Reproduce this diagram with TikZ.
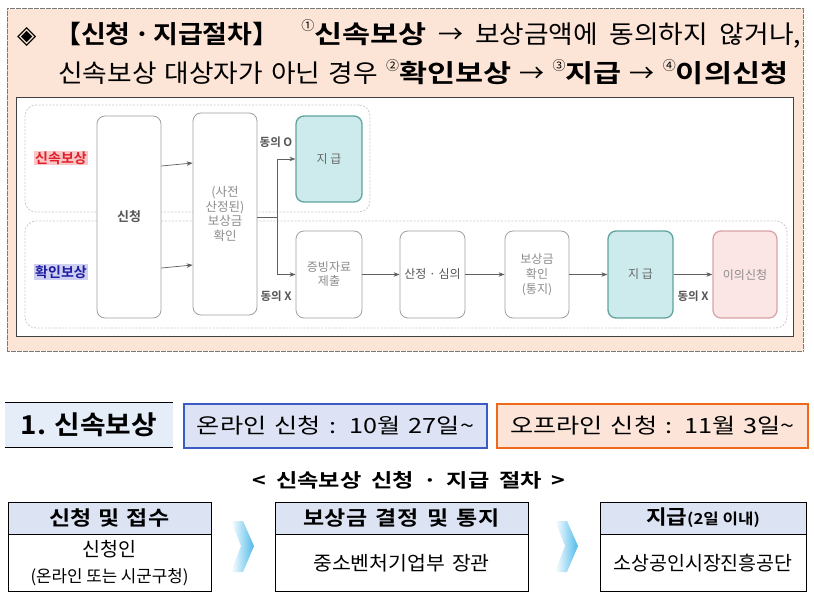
\documentclass[tikz,border=0pt]{standalone}
\usepackage{graphicx}
\usepackage{fontspec}
\setmainfont{Noto Sans CJK KR}[BoldFont={Noto Sans CJK KR Bold}]
\newfontfamily\symfont{DejaVu Sans}
\usetikzlibrary{arrows.meta,calc}
\definecolor{peach}{HTML}{FCE4D6}
\definecolor{bordgray}{HTML}{7A7A7A}
\definecolor{boxgray}{HTML}{A0A0A0}
\definecolor{txtgray}{HTML}{8C8C8C}
\definecolor{darkgray}{HTML}{555555}
\definecolor{tealfill}{HTML}{CDEBEC}
\definecolor{tealdraw}{HTML}{5FA39C}
\definecolor{pinkfill}{HTML}{FBE5E5}
\definecolor{pinkdraw}{HTML}{D8A3A8}
\definecolor{arrgray}{HTML}{606060}
\definecolor{grpgray}{HTML}{CACACA}
\definecolor{redlbl}{HTML}{E3202A}
\definecolor{redbg}{HTML}{F8C8C8}
\definecolor{bluelbl}{HTML}{1E1EA0}
\definecolor{bluebg}{HTML}{CFCFF3}
\definecolor{hdrblue}{HTML}{DCE3F3}
\definecolor{numfill}{HTML}{E5EDF8}
\definecolor{bluefill}{HTML}{DDE3F5}
\definecolor{bluedraw}{HTML}{3B5CC4}
\definecolor{orgfill}{HTML}{FCE5D8}
\definecolor{orgdraw}{HTML}{EE6A1A}
\definecolor{chev}{HTML}{4FBAEA}
\newcommand\circnum[1]{\raisebox{0.5em}{\fontsize{13}{13}\selectfont #1}}
\newcommand\rw[1]{\scalebox{1.07}[1]{#1}}
\newcommand\bw[1]{\scalebox{1.22}[1]{\textbf{#1}}}
\begin{document}
\begin{tikzpicture}[x=1pt,y=-1pt,
  whitebox/.style={draw=boxgray, line width=0.8pt, rounded corners=8pt, fill=white,
    text=txtgray, font=\fontsize{12}{14}\selectfont, align=center, inner sep=0pt},
  tealbox/.style={whitebox, draw=tealdraw, fill=tealfill, line width=1.3pt, text=darkgray!90},
  pinkbox/.style={whitebox, draw=pinkdraw, fill=pinkfill, line width=1.3pt},
  grp/.style={draw=grpgray, line width=0.8pt, dash pattern=on 2pt off 1.5pt, rounded corners=11pt},
  arr/.style={draw=arrgray, line width=0.7pt, -{Stealth[length=6pt,width=4.5pt]}},
  lbl/.style={font=\fontsize{11.5}{12}\selectfont\bfseries, text=darkgray, inner sep=0pt},
  hdr/.style={draw=black, line width=0.9pt, fill=hdrblue, inner sep=0pt, font=\fontsize{20}{22}\selectfont\bfseries},
  bdy/.style={draw=black, line width=0.9pt, fill=white, inner sep=0pt, align=center, font=\fontsize{19.5}{26}\selectfont},
]
\useasboundingbox (0,0) rectangle (814,599);
\fill[white] (0,0) rectangle (814,599);

% top peach panel
\node[draw=bordgray, line width=1pt, dash pattern=on 0.6pt off 0.6pt, fill=peach,
  minimum width=796pt, minimum height=342pt, inner sep=0pt] (panel) at (405,180) {};
\node[anchor=west, inner sep=0pt, font=\fontsize{25}{28}\selectfont] (t1) at (17,34)
  {\makebox[784pt][s]{{\symfont ◈}\hspace{6pt} \scalebox{1.08}[1]{\textbf{【신청\hspace{3pt}·\hspace{3pt}지급절차】}}\hspace{10pt} \circnum{①}\bw{신속보상} → \rw{보상금액에} \rw{동의하지} \rw{않거나,}}};
\node[anchor=west, inner sep=0pt, font=\fontsize{25}{28}\selectfont] (t2) at (58,72)
  {\makebox[730pt][s]{\rw{신속보상} \rw{대상자가} \rw{아닌} \rw{경우} \circnum{②}\bw{확인보상} → \circnum{③}\bw{지급} → \circnum{④}\bw{이의신청}}};

\node[draw=black!75, line width=0.8pt, fill=white, minimum width=777pt, minimum height=239pt, inner sep=0pt] (inner) at (404.5,216.5) {};

% groups
\node[grp, minimum width=345pt, minimum height=107pt, inner sep=0pt] (g1) at (197.5,158.5) {};
\node[grp, minimum width=762pt, minimum height=107pt, inner sep=0pt] (g2) at (406,274.5) {};

\node[font=\fontsize{14}{15}\selectfont\bfseries, text=redlbl, fill=redbg, inner sep=1pt] (l1) at (61,158) {신속보상};
\node[font=\fontsize{14}{15}\selectfont\bfseries, text=bluelbl, fill=bluebg, inner sep=1pt] (l2) at (61,272) {확인보상};

% boxes
\node[whitebox, minimum width=64pt, minimum height=202pt, text=darkgray, font=\fontsize{13}{14}\selectfont\bfseries] (sin) at (129,217) {신청};
\node[whitebox, minimum width=64pt, minimum height=202pt, text=txtgray, font=\fontsize{12.5}{14.5}\selectfont] (bc) at (225,214) {(사전\\산정된)\\보상금\\확인};
\node[tealbox, minimum width=66pt, minimum height=86pt] (jg1) at (329,159) {지 급};
\node[whitebox, minimum width=66pt, minimum height=87pt] (jb) at (329,274.5) {증빙자료\\제출};
\node[whitebox, minimum width=65pt, minimum height=87pt, text=darkgray] (ss) at (432.5,274.5) {산정 · 심의};
\node[whitebox, minimum width=64pt, minimum height=87pt, font=\fontsize{12}{15}\selectfont] (bt) at (537,274.5) {보상금\\확인\\(통지)};
\node[tealbox, minimum width=65pt, minimum height=87pt] (jg2) at (640.5,274.5) {지 급};
\node[pinkbox, minimum width=64pt, minimum height=87pt] (ie) at (745,274.5) {이의신청};

% connectors
\draw[arr] ([yshift=51pt]sin.east) -- ([yshift=51pt]bc.west);
\draw[arr] ([yshift=-51pt]sin.east) -- ([yshift=-51pt]bc.west);
\coordinate (br) at ($(bc.east)+(20,3)$);
\coordinate (bo) at ($(bc.east)+(0,3)$);
\draw[arr] (bo) -- (br) |- (jg1.west);
\draw[arr] (bo) -- (br) |- (jb.west);
\draw[arr] (jb) -- (ss);
\draw[arr] (ss) -- (bt);
\draw[arr] (bt) -- (jg2);
\draw[arr] (jg2) -- (ie);
\node[lbl] (o1) at (276,142) {동의 O};
\node[lbl] (x1) at (276,296) {동의 X};
\node[lbl] (x2) at (693,296) {동의 X};

% bottom part
\node[fill=numfill, minimum width=168pt, minimum height=44pt, inner sep=0pt,
  font=\fontsize{26}{28}\selectfont\bfseries] (num) at (89,425) {\scalebox{1.07}[1]{1. 신속보상}};
\draw[line width=1.2pt] (num.north west) -- (num.north east);
\draw[line width=1.2pt] (num.south west) -- (num.south east);
\node[draw=bluedraw, line width=1.8pt, fill=bluefill, minimum width=303pt, minimum height=44pt, inner sep=0pt,
  font=\fontsize{21}{24}\selectfont] (on) at (335.5,426) {\scalebox{1.2}[1]{\makebox[231pt][s]{온라인 신청 : 10월 27일\textasciitilde}}};
\node[draw=orgdraw, line width=1.8pt, fill=orgfill, minimum width=311pt, minimum height=44pt, inner sep=0pt,
  font=\fontsize{21}{24}\selectfont] (off) at (652.5,426) {\scalebox{1.2}[1]{\makebox[237pt][s]{오프라인 신청 : 11월 3일\textasciitilde}}};
\node[font=\fontsize{19}{22}\selectfont\bfseries, inner sep=0pt] (ttl) at (409,480) {\scalebox{1.22}[1]{\makebox[256pt][s]{< 신속보상 신청 · 지급 절차 >}}};

% tables
\node[hdr, minimum width=203pt, minimum height=32pt] (h1) at (109.5,518) {\scalebox{1.15}[1]{\makebox[104pt][s]{신청 및 접수}}};
\node[bdy, minimum width=203pt, minimum height=57pt, anchor=north] (b1) at (h1.south) {신청인\\{\fontsize{16.8}{20}\selectfont (온라인 또는 시군구청)}};
\node[hdr, minimum width=253pt, minimum height=32pt] (h2) at (401.5,518) {\scalebox{1.15}[1]{\makebox[170pt][s]{보상금 결정 및 통지}}};
\node[bdy, minimum width=253pt, minimum height=57pt, anchor=north] (b2) at (h2.south) {\scalebox{1.05}[1]{\makebox[168pt][s]{중소벤처기업부 장관}}};
\node[hdr, minimum width=206pt, minimum height=32pt] (h3) at (703,518) {\scalebox{1.12}[1]{지급{\fontsize{15}{16}\selectfont (2일 이내)}}};
\node[bdy, minimum width=206pt, minimum height=57pt, anchor=north] (b3) at (h3.south) {소상공인시장진흥공단};

% chevrons
\shade[left color=white, right color=chev] (231,521) -- (243,521) -- (254,546) -- (243,572) -- (231,572) -- (241,546) -- cycle;
\shade[left color=white, right color=chev] (555,521) -- (567,521) -- (578,546) -- (567,572) -- (555,572) -- (565,546) -- cycle;
\end{tikzpicture}
\end{document}
